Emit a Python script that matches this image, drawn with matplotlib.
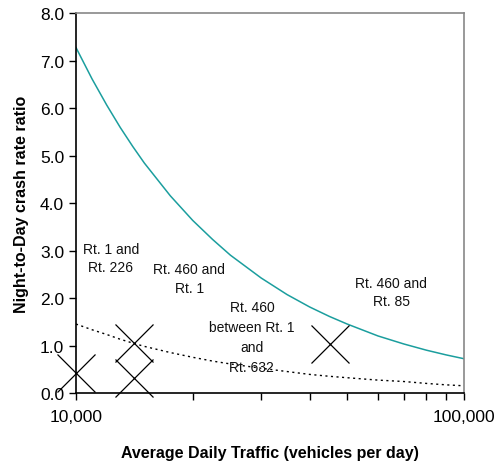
import numpy as np
import matplotlib
matplotlib.use('Agg')
import matplotlib.pyplot as plt
from matplotlib.ticker import FixedLocator, FuncFormatter, NullFormatter

plt.rcParams['font.family'] = ['Liberation Sans', 'DejaVu Sans']

# values
adt = [10000, 11000, 12000, 13000, 14000, 15000, 17500, 20000, 22500, 25000,
       30000, 35000, 40000, 45000, 50000, 60000, 70000, 80000, 90000, 100000]
upper_ratio = [7.28, 6.62, 6.07, 5.60, 5.20, 4.85, 4.16, 3.64, 3.24, 2.91,
               2.43, 2.08, 1.82, 1.62, 1.46, 1.21, 1.04, 0.91, 0.81, 0.73]
lower_ratio = [1.46, 1.34, 1.24, 1.14, 1.06, 0.99, 0.86, 0.76, 0.68, 0.62,
               0.53, 0.46, 0.40, 0.36, 0.33, 0.28, 0.25, 0.21, 0.18, 0.16]

site_adt = [10000, 14100, 14100, 45200]
site_ratio = [0.43, 1.07, 0.32, 1.03]

labels = ['Rt. 1 and\nRt. 226', 'Rt. 460 and\nRt. 1',
          'Rt. 460\nbetween Rt. 1\nand\nRt. 632', 'Rt. 460 and\nRt. 85']
label_x = [12300, 19600, 28400, 65000]
label_y = [2.85, 2.42, 1.19, 2.13]
label_spacing = [1.35, 1.4, 1.55, 1.35]

fig = plt.figure(figsize=(4.98, 4.64), dpi=100)
ax = fig.add_axes([0.1526, 0.150, 0.7791, 0.819])

ax.plot(adt, upper_ratio, color='#1b9e9e', lw=1.1)
ax.plot(adt, lower_ratio, color='black', lw=1.0, ls=(0, (1.5, 2.5)))
ax.plot(site_adt, site_ratio, ls='none', marker='x', ms=28, mew=0.9,
        color='black', clip_on=False, zorder=3)

for t, x, y, sp in zip(labels, label_x, label_y, label_spacing):
    ax.text(x, y, t, ha='center', va='center', fontsize=10,
            linespacing=sp, color='#111111')

ax.set_xscale('log')
ax.set_xlim(10000, 100000)
ax.set_ylim(0, 8)
ax.xaxis.set_major_locator(FixedLocator([10000, 100000]))
ax.xaxis.set_major_formatter(FuncFormatter(lambda v, p: f'{v:,.0f}'))
ax.xaxis.set_minor_locator(FixedLocator(np.arange(20000, 100000, 10000)))
ax.xaxis.set_minor_formatter(NullFormatter())
ax.set_yticks(np.arange(0, 8.1, 1.0))
ax.yaxis.set_major_formatter(FuncFormatter(lambda v, p: f'{v:.1f}'))

ax.tick_params(which='both', direction='out', length=5, width=1, labelsize=12.5)
ax.tick_params(axis='x', which='major', pad=6)
for s in ['top', 'right']:
    ax.spines[s].set_color('#888888')
    ax.spines[s].set_linewidth(1.2)
for s in ['left', 'bottom']:
    ax.spines[s].set_linewidth(1.2)

ax.set_xlabel('Average Daily Traffic (vehicles per day)', fontsize=11.5,
              fontweight='bold', labelpad=15)
ax.set_ylabel('Night-to-Day crash rate ratio', fontsize=11.5,
              fontweight='bold', labelpad=8)

fig.savefig('out.png', dpi=100)
